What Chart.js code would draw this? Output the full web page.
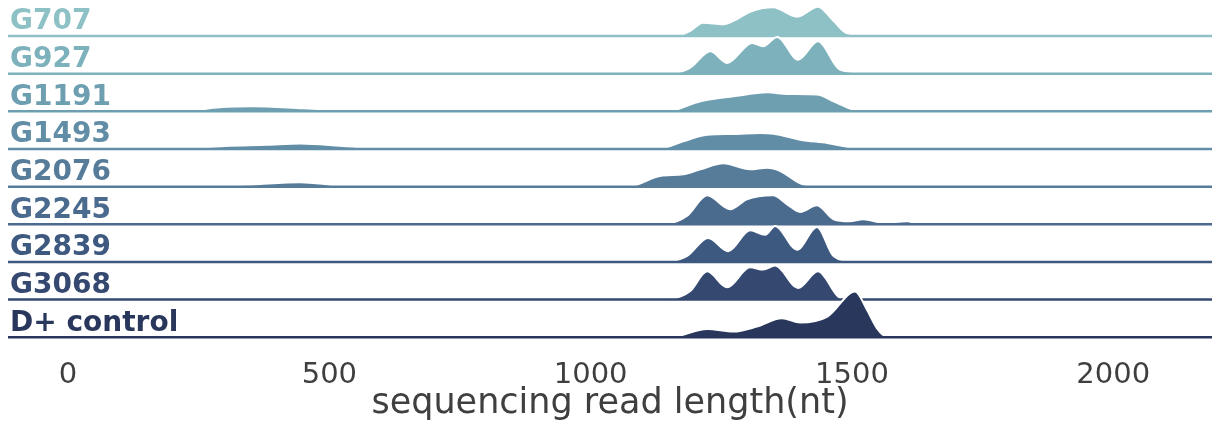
<!DOCTYPE html>
<html>
<head>
<meta charset="utf-8">
<script src="https://cdn.jsdelivr.net/npm/chart.js@4.4.0/dist/chart.umd.min.js"></script>
<style>
  html, body { margin: 0; padding: 0; background: #fff; }
  #wrap { width: 1217px; height: 437px; }
</style>
</head>
<body>
<div id="wrap"><canvas id="ridge"></canvas></div>
<script>
// ridgeline of read-length densities, one row per sample (top -> bottom)
const rowNames = ['G707', 'G927', 'G1191', 'G1493', 'G2076', 'G2245', 'G2839', 'G3068', 'D+ control'];
const rowColors = ['#8ec1c6', '#7db1bb', '#6d9fb1', '#618ea6', '#567c9a', '#4a6a8e', '#3e5980', '#344870', '#29375c'];

// [read length (nt), density height]
const dG707 = [[1130,0],[1166,0.5],[1190,5],[1215,13.3],[1254,11.7],[1280,17],[1305,24.3],[1349,28.7],[1395,19.3],[1435,29.3],[1465,15],[1491,2.7],[1530,1],[1579,0.5],[1600,1],[1615,0.5],[1640,0]];
const dG927 = [[1130,0],[1158,0.5],[1190,5.7],[1229,22.3],[1261,10.7],[1309,30.7],[1330,27.3],[1357,36.7],[1397,14],[1435,32.3],[1477,4],[1522,1],[1560,0.5],[1606,1],[1630,0]];
const dG1191 = [[200,0],[233,0.5],[290,4],[354,5],[450,3],[530,1.2],[575,0.3],[600,0],[1120,0],[1152,0.5],[1210,10],[1273,15],[1338,19],[1376,17.3],[1433,16.7],[1465,10],[1510,0.7],[1540,0]];
const dG1493 = [[200,0],[239,0.8],[300,3],[380,4.2],[444,5.5],[520,3.2],[580,0.8],[620,0],[1100,0],[1133,0.5],[1177,7.7],[1223,14.3],[1273,15],[1324,16],[1350,15.3],[1401,9.3],[1453,6],[1516,0.3],[1540,0]];
const dG2076 = [[240,0],[272,0.3],[350,2],[444,4.5],[500,2],[526,0.3],[550,0],[1050,0],[1076,0.5],[1133,10.7],[1177,12.3],[1210,17.3],[1254,23.3],[1305,17.3],[1338,19],[1363,15.6],[1401,3.3],[1426,0]];
const dG2245 = [[1120,0],[1146,0.5],[1184,8.3],[1223,29],[1267,15],[1299,25],[1349,29],[1376,20],[1401,12.3],[1433,19],[1465,5],[1495,3],[1522,5],[1560,1.7],[1606,3],[1625,0.5],[1650,0]];
const dG2839 = [[1130,0],[1152,0.5],[1184,5.7],[1225,24],[1263,10.7],[1305,31.7],[1334,27.3],[1353,36],[1395,12.3],[1433,35],[1465,5.7],[1500,1],[1540,1],[1598,1.5],[1620,0]];
const dG3068 = [[1130,0],[1152,0.5],[1190,8.3],[1223,28.3],[1261,12.3],[1305,32.3],[1330,30],[1353,34],[1397,11.7],[1435,28.3],[1477,1.7],[1495,0.3],[1580,0],[1598,1],[1615,0]];
const dControl = [[1130,0],[1158,0.5],[1223,8.3],[1273,5.7],[1318,10.7],[1366,19],[1401,14.7],[1453,20.7],[1506,45.7],[1529,27.3],[1548,9],[1567,0.5],[1590,0]];
const densities = [dG707, dG927, dG1191, dG1493, dG2076, dG2245, dG2839, dG3068, dControl];

const xTicks = [0, 500, 1000, 1500, 2000];
const xMin = -115, xMax = 2189;
const hScale = 37.66;   // density units per row
const labelLift = 0.37; // label sits just above its baseline

const datasets = [];
rowNames.forEach((name, i) => {
  const base = rowNames.length - 1 - i;
  // filled density with white outline
  datasets.push({
    label: name,
    data: densities[i].map(([x, h]) => ({ x: x, y: base + h / hScale })),
    borderColor: '#ffffff',
    borderWidth: 2,
    backgroundColor: rowColors[i],
    fill: { value: base },
    cubicInterpolationMode: 'monotone',
    pointRadius: 0,
    order: 1000 - i * 10
  });
  // baseline across the whole row
  datasets.push({
    label: name + ' base',
    data: [{ x: xMin, y: base }, { x: xMax, y: base }],
    borderColor: rowColors[i],
    borderWidth: 2.5,
    fill: false,
    pointRadius: 0,
    order: 1000 - i * 10 - 5
  });
});

// keep the plot area from being shrunk for label overhang
function noOverhang(s) {
  s.paddingTop = 0; s.paddingBottom = 0; s.paddingLeft = 0; s.paddingRight = 0;
}

new Chart(document.getElementById('ridge'), {
  type: 'line',
  data: { datasets: datasets },
  options: {
    responsive: true,
    maintainAspectRatio: false,
    animation: false,
    layout: { padding: { left: 8, right: 5, top: 0, bottom: 0 } },
    plugins: { legend: { display: false }, tooltip: { enabled: false } },
    scales: {
      x: {
        type: 'linear',
        min: xMin,
        max: xMax,
        grid: { display: false, drawTicks: false },
        border: { display: false },
        afterBuildTicks: s => { s.ticks = xTicks.map(v => ({ value: v })); },
        afterFit: s => { s.height = 92; noOverhang(s); },
        ticks: {
          padding: 13,
          color: '#3f3f3f',
          font: { family: 'DejaVu Sans', size: 29 },
          callback: v => String(v)
        },
        title: {
          display: true,
          text: 'sequencing read length(nt)',
          color: '#3f3f3f',
          font: { family: 'DejaVu Sans', size: 35 },
          padding: { top: 0, bottom: 12 }
        }
      },
      y: {
        type: 'linear',
        min: -0.205,
        max: 8.956,
        grid: { display: false, drawTicks: false },
        border: { display: false },
        afterBuildTicks: s => {
          s.ticks = rowNames.map((n, i) => ({ value: rowNames.length - 1 - i + labelLift }));
        },
        afterFit: s => { s.width = 0; noOverhang(s); },
        ticks: {
          mirror: true,
          padding: 2,
          autoSkip: false,
          color: c => rowColors[c.index],
          font: { family: 'DejaVu Sans', size: 28, weight: 'bold' },
          callback: (v, idx) => rowNames[idx]
        }
      }
    }
  }
});
</script>
</body>
</html>
